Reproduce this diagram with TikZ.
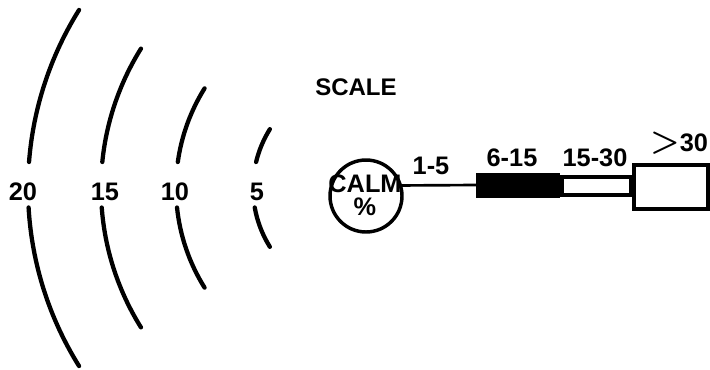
\documentclass[tikz,border=0pt]{standalone}
\usepackage{fontspec}
\setmainfont{Liberation Sans}
\begin{document}
\begin{tikzpicture}[x=0.75pt, y=0.75pt, every node/.style={font=\bfseries\fontsize{19}{17}\selectfont, inner sep=0pt, outer sep=0pt},
    ring/.style={line width=3.2pt, line cap=round}]
            \useasboundingbox (0,0) rectangle (710,369);
            \coordinate (ctr) at (364,181);

            % Draw the rings with their labels
            \foreach \r/\lab/\lx in {336/20/23, 263/15/105, 188/10/175, 111/5/257} {
                \draw[ring] ([shift={(148:\r)}]ctr) arc[start angle=148, end angle={180-asin(26/\r)}, radius=\r];
                \draw[ring] ([shift={({180+asin(19.5/\r)}:\r)}]ctr) arc[start angle={180+asin(19.5/\r)}, end angle=212, radius=\r];
                \node (lab\lab) at (\lx,177) {\lab};
            }

            \node (scale) at (356,282) {\fontsize{18}{17}\selectfont SCALE};

            % Draw the calm circle
            \node[draw, circle, line width=2.6pt, minimum size=54pt] (calm) at (366,173) {};
            \node (calmtxt) at (365,185.5) {CALM};
            \node (pct) at (365,162) {\%};

            % Draw the bars
            \node[fill=black, minimum width=63pt, minimum height=18.75pt] (bar) at (518,184) {};
            \node[draw, fill=white, line width=3pt, minimum width=51.75pt, minimum height=13.5pt] (white) at (596.5,183) {};
            \node[draw, fill=white, line width=3pt, minimum width=55.5pt, minimum height=32.5pt] (box) at (671,182) {};
            \draw[line width=2pt] (calm.17) -- (bar.west);

            \node (l1) at (431,203) {1-5};
            \node (l2) at (512,211) {6-15};
            \node (l3) at (595,211) {15-30};
            \node (l4) at (679,226) {{\fontsize{23}{20}\selectfont\boldmath$>$}30};
\end{tikzpicture}
\end{document}
